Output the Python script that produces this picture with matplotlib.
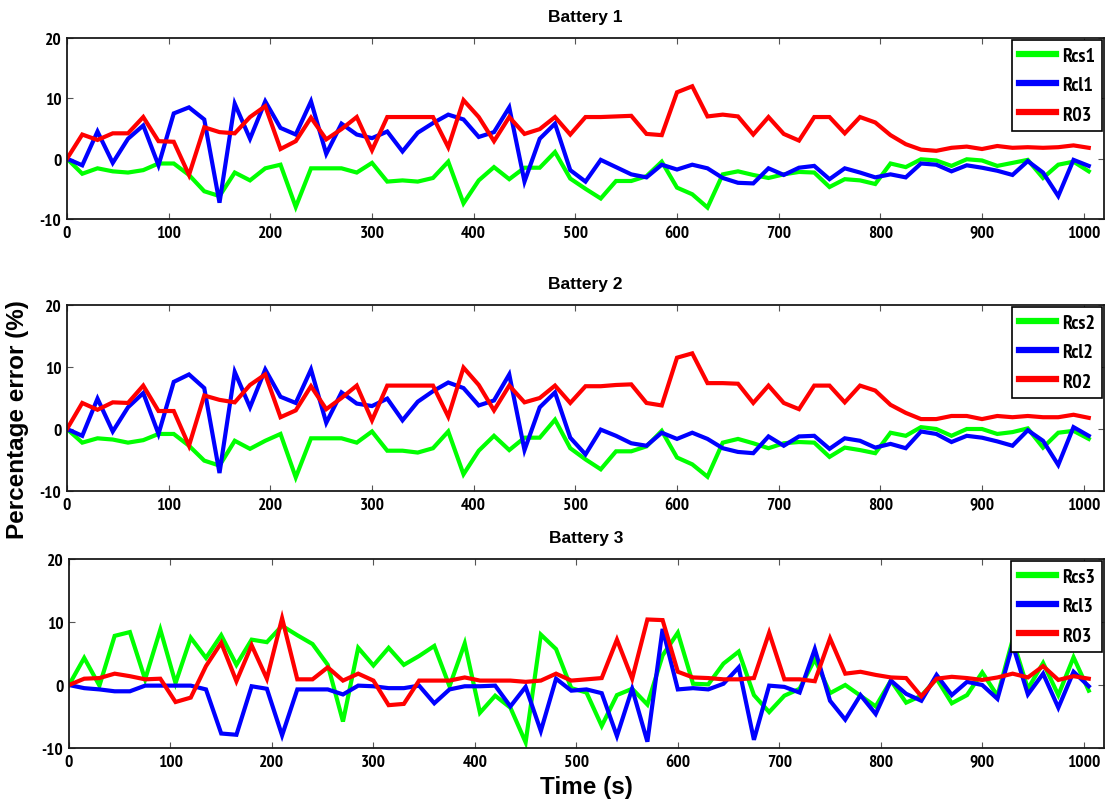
import os
import numpy as np
import matplotlib
matplotlib.use("Agg")
import matplotlib.pyplot as plt
from matplotlib import font_manager
from matplotlib.font_manager import FontProperties

# ---------------- data ----------------
time_s = list(range(0, 1006, 15))  # 0 .. 1005 s, 68 samples

rcs1 = [0, -2.5, -1.6, -2.1, -2.3, -1.9, -0.8, -0.8, -2.7, -5.4, -6.2, -2.3, -3.6, -1.6, -1.0, -8.0,
        -1.6, -1.6, -1.6, -2.3, -0.7, -3.8, -3.6, -3.8, -3.2, -0.5, -7.4, -3.6, -1.4, -3.4, -1.5, -1.5,
        1.1, -3.3, -5.0, -6.6, -3.7, -3.7, -2.9, -0.5, -4.8, -5.9, -8.1, -2.6, -2.1, -2.7, -3.2, -2.6,
        -2.2, -2.3, -4.7, -3.4, -3.6, -4.2, -0.8, -1.4, -0.1, -0.3, -1.2, -0.1, -0.3, -1.2, -0.7, -0.2,
        -3.2, -1.0, -0.5, -2.1]
rcl1 = [0, -1.1, 4.5, -0.7, 3.3, 5.5, -1.1, 7.5, 8.5, 6.5, -7.3, 9.1, 3.3, 9.5, 5.1, 4.0,
        9.5, 0.8, 5.8, 4.0, 3.4, 4.5, 1.2, 4.3, 5.9, 7.3, 6.5, 3.6, 4.4, 8.5, -3.8, 3.3,
        5.8, -1.9, -3.8, -0.2, -1.4, -2.6, -3.1, -1.0, -1.8, -1.0, -1.6, -3.2, -4.0, -4.1, -1.6, -2.7,
        -1.5, -1.2, -3.4, -1.6, -2.3, -3.1, -2.6, -3.1, -0.8, -1.0, -2.1, -1.1, -1.5, -2.0, -2.7, -0.4,
        -2.3, -6.2, -0.2, -1.2]
r01 = [0, 4.0, 3.1, 4.2, 4.2, 6.9, 2.9, 2.8, -2.7, 5.2, 4.4, 4.2, 6.9, 8.7, 1.6, 2.9,
       6.8, 3.2, 4.9, 6.9, 1.4, 6.9, 6.9, 6.9, 6.9, 1.9, 9.7, 6.9, 2.9, 6.9, 4.1, 4.9,
       6.9, 4.0, 6.9, 6.9, 7.0, 7.1, 4.1, 3.9, 11.0, 12.0, 7.0, 7.3, 7.0, 4.0, 6.9, 4.1,
       3.0, 6.9, 6.9, 4.2, 6.9, 6.0, 3.9, 2.4, 1.5, 1.3, 1.8, 2.0, 1.6, 2.1, 1.8, 1.9,
       1.8, 1.9, 2.2, 1.8]

rcs2 = [0, -2.2, -1.5, -1.7, -2.2, -1.8, -0.8, -0.8, -2.7, -5.1, -5.9, -1.9, -3.2, -1.9, -0.8, -7.8,
        -1.5, -1.5, -1.5, -2.2, -0.4, -3.5, -3.5, -3.8, -3.1, -0.4, -7.3, -3.5, -1.1, -3.4, -1.4, -1.4,
        1.5, -3.1, -4.9, -6.5, -3.6, -3.6, -2.8, -0.3, -4.6, -5.7, -7.7, -2.2, -1.6, -2.3, -3.1, -2.3,
        -2.1, -2.2, -4.5, -3.0, -3.4, -3.9, -0.6, -1.1, 0.3, 0.0, -1.1, 0.0, 0.0, -0.8, -0.5, 0.1,
        -3.0, -0.6, -0.3, -1.6]
rcl2 = [0, -1.1, 4.9, -0.4, 3.5, 5.8, -0.8, 7.6, 8.8, 6.6, -7.1, 9.2, 3.5, 9.6, 5.2, 4.2,
        9.6, 1.0, 5.9, 4.1, 3.7, 4.9, 1.4, 4.4, 6.1, 7.5, 6.6, 3.8, 4.6, 8.8, -3.4, 3.5,
        5.9, -1.4, -4.1, -0.1, -1.1, -2.3, -2.7, -0.6, -1.6, -0.6, -1.6, -3.1, -3.7, -3.9, -1.2, -2.7,
        -1.2, -1.1, -3.2, -1.5, -1.9, -3.0, -2.4, -3.1, -0.4, -0.8, -2.1, -1.1, -1.4, -2.0, -2.7, -0.2,
        -1.9, -5.8, 0.3, -1.1]
r02 = [0, 4.2, 3.1, 4.3, 4.2, 7.0, 2.9, 2.9, -2.7, 5.4, 4.7, 4.3, 7.1, 8.8, 1.9, 3.0,
       6.9, 3.2, 5.0, 7.0, 1.4, 7.0, 7.0, 7.0, 7.0, 2.0, 9.9, 7.1, 3.0, 7.0, 4.3, 5.0,
       7.0, 4.2, 6.9, 6.9, 7.1, 7.2, 4.2, 3.8, 11.5, 12.2, 7.4, 7.4, 7.3, 4.2, 7.0, 4.2,
       3.2, 7.0, 7.0, 4.3, 7.0, 6.2, 3.9, 2.6, 1.6, 1.6, 2.1, 2.1, 1.6, 2.1, 1.9, 2.1,
       1.9, 1.9, 2.3, 1.8]

rcs3 = [0, 4.3, -0.1, 7.8, 8.4, 0.9, 8.8, 0.3, 7.5, 4.3, 7.9, 3.2, 7.2, 6.8, 9.4, 7.9,
        6.5, 3.2, -5.8, 5.9, 3.1, 5.9, 3.2, 4.6, 6.2, -0.2, 6.6, -4.4, -1.7, -3.6, -9.1, 8.0,
        5.7, -0.5, -1.2, -6.5, -1.6, -0.6, -3.1, 4.7, 8.3, 0.2, 0.1, 3.4, 5.3, -1.6, -4.3, -1.7,
        -0.6, 4.1, -1.3, 0.0, -1.7, -3.4, 0.7, -2.8, -1.7, 1.0, -2.9, -1.6, 2.0, -1.7, 7.2, -0.6,
        3.5, -1.6, 4.4, -0.9]
rcl3 = [0, -0.5, -0.7, -1.0, -1.0, -0.1, -0.1, -0.1, -0.1, -0.7, -7.7, -7.9, -0.2, -0.6, -8.0, -0.7,
        -0.7, -0.7, -1.5, -0.1, -0.2, -0.5, -0.5, -0.1, -2.9, -0.7, -0.2, -0.2, -0.1, -3.4, -0.3, -7.3,
        1.0, -0.9, -0.7, -1.3, -8.1, -0.6, -9.0, 8.9, -0.7, -0.5, -0.7, 0.2, 2.8, -8.7, -0.1, -0.3,
        -1.2, 5.7, -2.5, -5.5, -1.6, -4.6, 0.7, -1.4, -2.5, 1.6, -1.6, 0.5, 0.0, -2.2, 6.4, -1.5,
        1.8, -3.6, 2.1, -0.2]
r03 = [0, 1.0, 1.1, 1.8, 1.4, 0.9, 1.0, -2.7, -2.0, 3.0, 6.7, 0.6, 6.3, 1.0, 10.6, 0.9,
       0.9, 2.8, 0.7, 1.8, 0.7, -3.2, -3.0, 0.7, 0.7, 0.7, 1.2, 0.7, 0.7, 0.7, 0.5, 0.7,
       1.8, 0.7, 0.9, 1.1, 7.2, 1.0, 10.4, 10.3, 2.1, 1.2, 1.1, 0.9, 0.9, 1.1, 8.3, 0.9,
       0.9, 0.6, 7.4, 1.8, 2.1, 1.6, 1.2, 1.1, -1.8, 1.0, 1.3, 1.1, 0.8, 1.2, 1.8, 1.2,
       3.0, 0.8, 1.4, 1.0]

titles = ["Battery 1", "Battery 2", "Battery 3"]
labels = [["Rcs1", "Rcl1", "R03"], ["Rcs2", "Rcl2", "R02"], ["Rcs3", "Rcl3", "R03"]]
series = [[rcs1, rcl1, r01], [rcs2, rcl2, r02], [rcs3, rcl3, r03]]
x_ticks = list(range(0, 1001, 100))
y_ticks = [-10, 0, 10, 20]

# ---------------- fonts ----------------
plt.rcParams['font.family'] = ['Liberation Sans', 'DejaVu Sans']
plt.rcParams['font.weight'] = 'bold'
plt.rcParams['axes.unicode_minus'] = False

narrow_bold = None
for f in font_manager.fontManager.ttflist:
    bn = os.path.basename(f.fname).lower()
    if 'narrow' in bn and 'bold' in bn and 'italic' not in bn:
        narrow_bold = f.fname
        break

if narrow_bold:
    fp_small = FontProperties(fname=narrow_bold, size=12.5)
    fp_leg = FontProperties(fname=narrow_bold, size=14.5)
else:
    fp_small = FontProperties(family=['Liberation Sans', 'DejaVu Sans'], weight='bold', size=11.5)
    fp_leg = FontProperties(family=['Liberation Sans', 'DejaVu Sans'], weight='bold', size=12)
fp_title = FontProperties(family=['Liberation Sans', 'DejaVu Sans'], weight='bold', size=12.5)
fp_label = FontProperties(family=['Liberation Sans', 'DejaVu Sans'], weight='bold', size=17.5)

# ---------------- figure ----------------
colors = ["#00ff00", "#0000ff", "#ff0000"]
W, H = 1108, 812
fig = plt.figure(figsize=(W / 100, H / 100), dpi=100)

# axes boxes in pixels: (left, top, right, bottom)
boxes = [(67, 39, 1104, 220), (67, 306, 1104, 492), (69, 560, 1104, 749)]

for i, (l, t, r, b) in enumerate(boxes):
    ax = fig.add_axes([l / W, 1 - b / H, (r - l) / W, (b - t) / H])
    for s, c, lab in zip(series[i], colors, labels[i]):
        ax.plot(time_s, s, color=c, lw=3.0, label=lab, solid_joinstyle='miter')
    ax.set_xlim(0, 1020)
    ax.set_ylim(-10, 20)
    ax.set_xticks(x_ticks)
    ax.set_yticks(y_ticks)
    ax.tick_params(direction='in', top=True, right=True, length=4.5, width=0.8,
                   color='#555555', pad=4)
    for lbl in ax.get_xticklabels() + ax.get_yticklabels():
        lbl.set_fontproperties(fp_small)
    for sp in ax.spines.values():
        sp.set_linewidth(1.3)
        sp.set_color('#1a1a1a')
    ax.set_title(titles[i], fontproperties=fp_title, pad=12)
    leg = ax.legend(loc='upper right', frameon=True, fancybox=False,
                    edgecolor='black', framealpha=1, borderaxespad=0.1,
                    handlelength=1.85, handletextpad=0.3, labelspacing=0.55,
                    borderpad=0.35, prop=fp_leg)
    leg.get_frame().set_linewidth(1.2)
    for h in leg.get_lines():
        h.set_linewidth(4.5)
    if i == 2:
        ax.set_xlabel("Time (s)", fontproperties=fp_label, labelpad=4)

fig.text(18 / W, 1 - 420 / H, "Percentage error (%)", rotation=90, ha='center', va='center',
         fontproperties=fp_label)

fig.savefig("out.png", dpi=100)
